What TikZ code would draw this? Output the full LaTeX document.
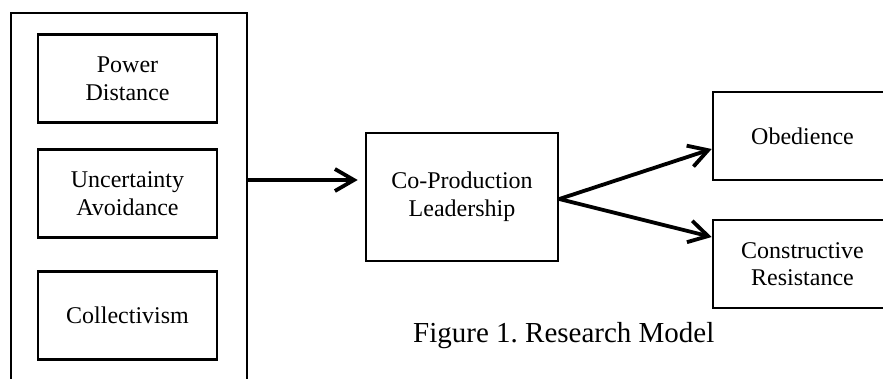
\documentclass[tikz,border=0pt]{standalone}
\usepackage{fontspec}
\setmainfont{Liberation Serif}
\usetikzlibrary{arrows.meta}
\frenchspacing
\begin{document}
\begin{tikzpicture}[x=1pt,y=-1pt,
  box/.style={draw=black, line width=2.6pt, minimum width=179pt, minimum height=88pt, inner sep=0pt, align=center, font=\fontsize{24}{27.6}\selectfont},
  outerbox/.style={draw=black, line width=2.4pt, minimum width=236pt, minimum height=400pt, inner sep=0pt},
  arr/.style={line width=3.8pt, -{Straight Barb[length=19pt,width=22pt]}}]
\useasboundingbox (0,0) rectangle (883,378);
\clip (0,0) rectangle (883,378);
\node[outerbox] (outer) at (129,213) {};
\node[box] (pd) at (127.5,78.5) {Power\\Distance};
\node[box] (ua) at (127.5,193.5) {Uncertainty\\Avoidance};
\node[box] (co) at (127.5,315.5) {Collectivism};
\node[box, minimum width=192pt, minimum height=128pt] (cp) at (462,197) {Co-Production\\Leadership};
\node[box] (ob) at (802.5,136) {Obedience};
\node[box] (cr) at (802.5,264) {Constructive\\Resistance};
\node[anchor=base west, inner sep=0pt, font=\fontsize{29}{34}\selectfont] (cap) at (413,342) {Figure 1. Research Model};
\path (outer.east) ++(0,-33) coordinate (outOut);
\path (cp.west) ++(0,-17) coordinate (cpIn);
\path (cp.east) ++(0,2) coordinate (cpOut);
\path (ob.west) ++(0,13) coordinate (obIn);
\path (cr.west) ++(0,-27) coordinate (crIn);
\draw[arr, shorten >=7pt] (outOut) -- (cpIn);
\draw[arr] (cpOut) -- (obIn);
\draw[arr] (cpOut) -- (crIn);
\end{tikzpicture}
\end{document}
